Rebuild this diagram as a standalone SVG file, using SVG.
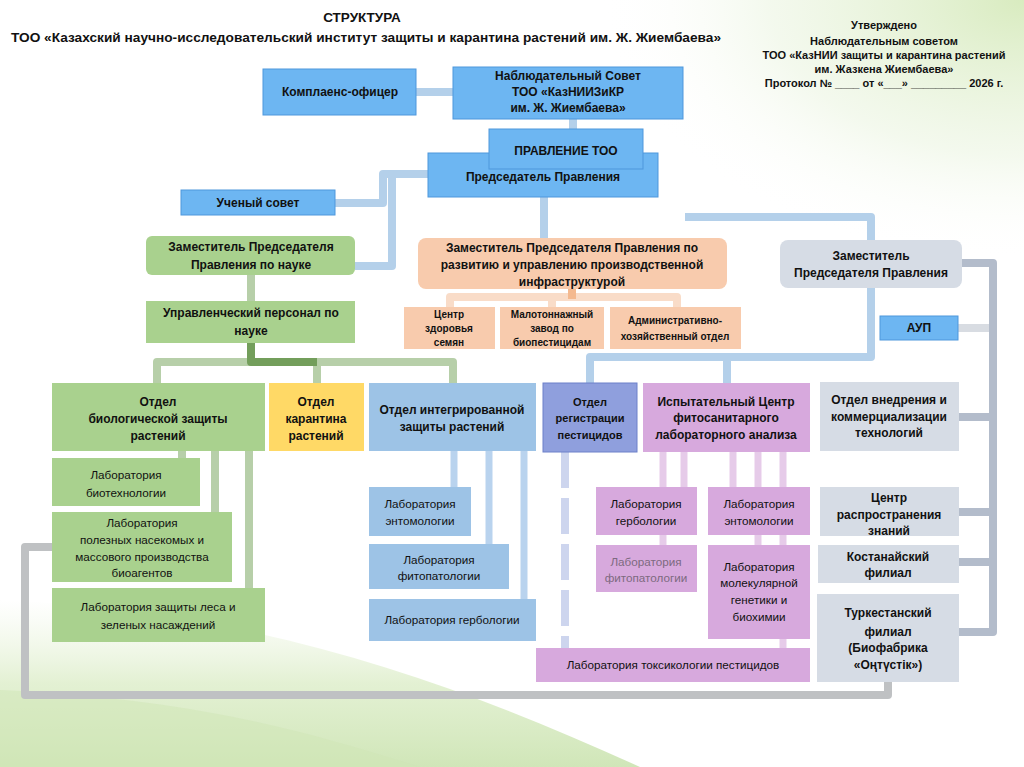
<svg xmlns="http://www.w3.org/2000/svg" width="1024" height="767" viewBox="0 0 1024 767">
<defs>
<radialGradient id="gTR" cx="1" cy="0" r="1">
<stop offset="0" stop-color="#d4e9b8" stop-opacity="0.9"/>
<stop offset="0.6" stop-color="#e8f3dc" stop-opacity="0.5"/>
<stop offset="1" stop-color="#ffffff" stop-opacity="0"/>
</radialGradient>
<linearGradient id="gBL" x1="0" y1="0" x2="0" y2="1">
<stop offset="0" stop-color="#e6f1d6" stop-opacity="0"/>
<stop offset="0.5" stop-color="#dcedc8" stop-opacity="0.8"/>
<stop offset="1" stop-color="#d0e6b8" stop-opacity="1"/>
</linearGradient>
<style>
text{font-family:"Liberation Sans",Arial,sans-serif;fill:#111;text-anchor:middle}
.b{font-weight:bold;font-size:12px}
.r{font-size:11.7px}
.s{font-weight:bold;font-size:10px}
.h{font-weight:bold;font-size:11px}
.rb{font-weight:bold;font-size:11px}
.blue{fill:#6db6f2;stroke:#4f97dc;stroke-width:1}
.green{fill:#a9d18e}
.yellow{fill:#ffd966}
.orange{fill:#f8cbad}
.ltblue{fill:#9dc3e6}
.reg{fill:#8f9fdd;stroke:#6c80c9;stroke-width:1}
.purple{fill:#d7a9dd}
.gray{fill:#d6dce5}
.c{fill:none;stroke-width:8;stroke-linejoin:round;stroke-linecap:butt}
.cb{stroke:#b4d0ea}
.cg{stroke:#b7cfa9}
.cdg{stroke:#739e5b}
.co{stroke:#f9dcc8}
.cdo{stroke:#f4b98f}
.cp{stroke:#e6cbe9;stroke-width:7}
.ci{stroke:#b9d3ee;stroke-width:7}
.cgr{stroke:#b3bccb}
.cgl{stroke:#d8dce2}
.cloop{stroke:#bfc1c3}
</style>
</defs>
<rect width="1024" height="767" fill="#ffffff"/>
<rect x="600" y="0" width="424" height="260" fill="url(#gTR)"/>
<path d="M0,600 C250,610 450,680 640,767 L0,767 Z" fill="url(#gBL)"/>
<path d="M0,690 C200,700 300,730 420,767 L0,767 Z" fill="#cfe5b5" opacity="0.5"/>

<g id="title">
<text x="362" y="22" class="b" style="font-size:13.5px">СТРУКТУРА</text>
<text x="366" y="42" class="b" style="font-size:13.5px" textLength="710" lengthAdjust="spacingAndGlyphs">ТОО «Казахский научно-исследовательский институт защиты и карантина растений им. Ж. Жиембаева»</text>
</g>
<g id="approval">
<text x="884" y="29" class="h">Утверждено</text>
<text x="884" y="45" class="h">Наблюдательным советом</text>
<text x="884" y="59" class="h">ТОО «КазНИИ защиты и карантина растений</text>
<text x="884" y="73" class="h">им. Жазкена Жиембаева»</text>
<text x="884" y="87" class="h">Протокол № ____ от «___» _________ 2026 г.</text>
</g>

<g id="connectors">
<path class="c cb" d="M416,92 H453"/>
<path class="c cb" d="M573,119 V130"/>
<path class="c cb" d="M544,197 V239"/>
<path class="c cb" d="M428,174 H383 V203 H335"/>
<path class="c cb" d="M392,174 V266 H355"/>
<path class="c cb" d="M685,217 H871 V357 H590 V383"/>
<path class="c cb" d="M727,357 V383"/>
<path class="c cg" d="M251,275 V301"/>
<path class="c cg" d="M157,383 V362 H453 V383"/>
<path class="c cg" d="M317,362 V383"/>
<path class="c cdg" d="M251,343 V362 H317"/>
<path class="c cg" d="M182,451 V458"/>
<path class="c cg" d="M215,451 V512"/>
<path class="c cg" d="M249,451 V588"/>
<path class="c co" d="M450,307 V297 H677 V307"/>
<path class="c co" d="M552,297 V307"/>
<path class="c cdo" d="M572,289 V299"/>
<path class="c ci" d="M454,451 V487"/>
<path class="c ci" d="M489,451 V544"/>
<path class="c ci" d="M524,451 V599"/>
<path class="c" d="M565,452 V648" stroke="#cdd5ee" stroke-width="7" stroke-dasharray="36 10"/>
<path class="c cp" d="M663,452 V545"/>
<path class="c cp" d="M684,452 V497"/>
<path class="c cp" d="M733,452 V497"/>
<path class="c cp" d="M758,452 V545"/>
<path class="c cp" d="M783,452 V648"/>
<path class="c cgl" d="M958,328 H993"/>
<path class="c cgr" d="M962,263 H993 V632 H959"/>
<path class="c cgr" d="M959,417 H993"/>
<path class="c cgr" d="M959,512 H993"/>
<path class="c cgr" d="M959,562 H993"/>
<path class="c cloop" d="M52,547 H25 V695 H888 V682"/>
</g>

<g id="n-komplaens"><rect class="blue" x="263" y="69" width="153" height="46"/><text x="340" y="96" class="b">Комплаенс-офицер</text></g>
<g id="n-nabl"><rect class="blue" x="453" y="67" width="230" height="52"/>
<text x="568" y="80" class="b">Наблюдательный Совет</text>
<text x="568" y="96" class="b">ТОО «КазНИИЗиКР</text>
<text x="568" y="112" class="b">им. Ж. Жиембаева»</text></g>
<g id="n-pred"><rect class="blue" x="428" y="153" width="230" height="44"/><text x="543" y="181" class="b">Председатель Правления</text></g>
<g id="n-pravl"><rect class="blue" x="489" y="129" width="154" height="40"/><text x="566" y="155" class="b">ПРАВЛЕНИЕ ТОО</text></g>
<g id="n-uchen"><rect class="blue" x="181" y="190" width="154" height="25"/><text x="258" y="207" class="b">Ученый совет</text></g>

<g id="n-zam-nauka"><rect class="green" x="146" y="236" width="209" height="39" rx="6"/>
<text x="251" y="251" class="b">Заместитель Председателя</text>
<text x="251" y="269" class="b">Правления по науке</text></g>
<g id="n-upr"><rect class="green" x="146" y="301" width="209" height="42"/>
<text x="251" y="317" class="b">Управленческий персонал по</text>
<text x="251" y="335" class="b">науке</text></g>

<g id="n-zam-razv"><rect class="orange" x="418" y="238" width="309" height="51" rx="8"/>
<text x="572" y="252" class="b">Заместитель Председателя Правления по</text>
<text x="572" y="269" class="b">развитию и управлению производственной</text>
<text x="572" y="286" class="b">инфраструктурой</text></g>
<g id="n-centr-zdor"><rect class="orange" x="404" y="307" width="91" height="42"/>
<text x="449" y="318" class="s">Центр</text><text x="449" y="332" class="s">здоровья</text><text x="449" y="346" class="s">семян</text></g>
<g id="n-zavod"><rect class="orange" x="500" y="307" width="104" height="42"/>
<text x="552" y="318" class="s">Малотоннажный</text><text x="552" y="332" class="s">завод по</text><text x="552" y="346" class="s">биопестицидам</text></g>
<g id="n-aho"><rect class="orange" x="610" y="307" width="131" height="42"/>
<text x="675" y="324" class="s">Административно-</text><text x="675" y="340" class="s">хозяйственный отдел</text></g>

<g id="n-zam"><rect class="gray" x="780" y="240" width="182" height="48" rx="8"/>
<text x="871" y="260" class="b">Заместитель</text>
<text x="871" y="277" class="b">Председателя Правления</text></g>
<g id="n-aup"><rect class="blue" x="880" y="316" width="78" height="24"/><text x="919" y="332" class="b">АУП</text></g>

<g id="n-bio"><rect class="green" x="52" y="383" width="213" height="68"/>
<text x="158" y="406" class="b">Отдел</text><text x="158" y="423" class="b">биологической защиты</text><text x="158" y="440" class="b">растений</text></g>
<g id="n-karant"><rect class="yellow" x="269" y="383" width="95" height="68"/>
<text x="316" y="406" class="b">Отдел</text><text x="316" y="423" class="b">карантина</text><text x="316" y="440" class="b">растений</text></g>
<g id="n-lab-biotech"><rect class="green" x="52" y="458" width="148" height="48"/>
<text x="126" y="479" class="r">Лаборатория</text><text x="126" y="497" class="r">биотехнологии</text></g>
<g id="n-lab-polez"><rect class="green" x="52" y="512" width="180" height="70"/>
<text x="142" y="527" class="r">Лаборатория</text><text x="142" y="544" class="r">полезных насекомых и</text><text x="142" y="561" class="r">массового производства</text><text x="142" y="577" class="r">биоагентов</text></g>
<g id="n-lab-les"><rect class="green" x="52" y="588" width="213" height="54"/>
<text x="158" y="611" class="r">Лаборатория защиты леса и</text><text x="158" y="629" class="r">зеленых насаждений</text></g>

<g id="n-integr"><rect class="ltblue" x="369" y="383" width="167" height="68"/>
<text x="452" y="414" class="b">Отдел интегрированной</text><text x="452" y="431" class="b">защиты растений</text></g>
<g id="n-lab-ent"><rect class="ltblue" x="369" y="487" width="102" height="49"/>
<text x="420" y="508" class="r">Лаборатория</text><text x="420" y="525" class="r">энтомологии</text></g>
<g id="n-lab-fito"><rect class="ltblue" x="369" y="544" width="140" height="45"/>
<text x="439" y="564" class="r">Лаборатория</text><text x="439" y="580" class="r">фитопатологии</text></g>
<g id="n-lab-gerb"><rect class="ltblue" x="369" y="599" width="167" height="42"/>
<text x="452" y="624" class="r">Лаборатория гербологии</text></g>

<g id="n-reg"><rect class="reg" x="543" y="383" width="94" height="69"/>
<text x="590" y="406" class="rb">Отдел</text><text x="590" y="422" class="rb">регистрации</text><text x="590" y="439" class="rb">пестицидов</text></g>
<g id="n-isp"><rect class="purple" x="643" y="383" width="167" height="69"/>
<text x="726" y="406" class="b">Испытательный Центр</text><text x="726" y="422" class="b">фитосанитарного</text><text x="726" y="439" class="b">лабораторного анализа</text></g>
<g id="n-p-gerb"><rect class="purple" x="596" y="487" width="101" height="48"/>
<text x="646" y="508" class="r">Лаборатория</text><text x="646" y="525" class="r">гербологии</text></g>
<g id="n-p-ent"><rect class="purple" x="708" y="487" width="102" height="48"/>
<text x="759" y="508" class="r">Лаборатория</text><text x="759" y="525" class="r">энтомологии</text></g>
<g id="n-p-fito"><rect class="purple" x="596" y="545" width="101" height="47"/>
<text x="646" y="566" class="r" style="fill:#7d6a80">Лаборатория</text><text x="646" y="582" class="r" style="fill:#7d6a80">фитопатологии</text></g>
<g id="n-p-mol"><rect class="purple" x="708" y="545" width="102" height="94"/>
<text x="759" y="571" class="r">Лаборатория</text><text x="759" y="587" class="r">молекулярной</text><text x="759" y="604" class="r">генетики и</text><text x="759" y="621" class="r">биохимии</text></g>
<g id="n-p-tox"><rect class="purple" x="536" y="648" width="274" height="34"/>
<text x="673" y="669" class="r">Лаборатория токсикологии пестицидов</text></g>

<g id="n-vnedr"><rect class="gray" x="820" y="382" width="139" height="69"/>
<text x="889" y="404" class="b">Отдел внедрения и</text><text x="889" y="421" class="b">коммерциализации</text><text x="889" y="437" class="b">технологий</text></g>
<g id="n-rasp"><rect class="gray" x="820" y="487" width="139" height="49"/>
<text x="889" y="502" class="b">Центр</text><text x="889" y="519" class="b">распространения</text><text x="889" y="535" class="b">знаний</text></g>
<g id="n-kost"><rect class="gray" x="818" y="545" width="141" height="38"/>
<text x="888" y="561" class="b">Костанайский</text><text x="888" y="577" class="b">филиал</text></g>
<g id="n-turk"><rect class="gray" x="817" y="594" width="142" height="88"/>
<text x="888" y="617" class="b">Туркестанский</text><text x="888" y="636" class="b">филиал</text><text x="888" y="652" class="b">(Биофабрика</text><text x="888" y="669" class="b">«Оңтүстік»)</text></g>
</svg>
